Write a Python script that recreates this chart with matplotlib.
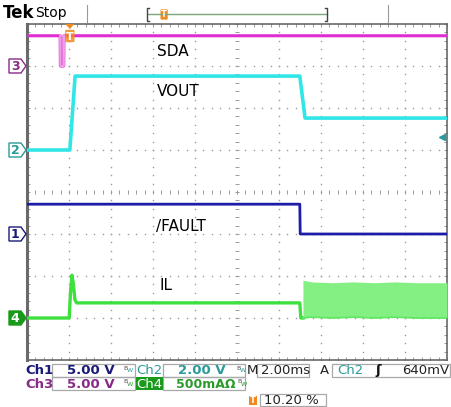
"""
Oscilloscope capture: SDA / VOUT / /FAULT / IL start-up and fault event.
"""
import numpy as np
import matplotlib
matplotlib.use("Agg")
import matplotlib.pyplot as plt
from matplotlib.patches import Polygon, Rectangle, FancyBboxPatch

# --- scope settings ---
time_per_div = 2.0          # ms/div
trig_pos = 0.102            # trigger position in record (10.20 %)
trig_level = 0.64           # V on Ch2

# channel: (ground position in div from bottom, scale per div)
ch_pos = {"ch1": 3.0, "ch2": 5.0, "ch3": 7.0, "ch4": 1.0}
ch_scale = {"ch1": 5.0, "ch2": 2.0, "ch3": 5.0, "ch4": 0.5}

# --- traces (time in ms relative to trigger) ---
sda_t = [-2.04, -0.46, -0.45, -0.29, -0.28, 17.96]
sda_v = [3.6, 3.6, 0.0, 0.0, 3.6, 3.6]

vout_t = [-2.04, 0.0, 0.25, 10.95, 11.2, 17.96]
vout_v = [0.0, 0.0, 3.52, 3.52, 1.52, 1.52]

fault_t = [-2.04, 10.95, 10.97, 17.96]
fault_v = [3.55, 3.55, 0.0, 0.0]

il_t = [-2.04, -0.03, 0.03, 0.1, 0.16, 0.24, 0.32, 10.95, 11.0, 11.1]
il_a = [0.0, 0.0, 0.3, 0.51, 0.42, 0.22, 0.18, 0.18, 0.0, 0.0]

# hiccup ripple envelope after the fault
ripple_t = [11.1, 11.5, 12.5, 13.5, 14.5, 15.5, 16.5, 17.96]
ripple_hi = [0.45, 0.43, 0.42, 0.43, 0.42, 0.43, 0.42, 0.42]
ripple_lo = [0.0, 0.01, 0.0, 0.01, 0.0, 0.01, 0.0, 0.0]

c_ch1 = "#1c1ca8"
c_ch2 = "#30e6e6"
c_ch3 = "#e02cd2"
c_ch4 = "#3ee03e"
t_ch1 = "#1a1a78"
t_ch2 = "#2a9a9a"
t_ch3 = "#882a88"
t_ch4 = "#2a9a2a"
orange = "#f08a1e"
grid_c = "#9a9a9a"


def tx(t):
    return 10 * trig_pos + np.asarray(t) / time_per_div


def ty(v, ch):
    return ch_pos[ch] + np.asarray(v) / ch_scale[ch]


fig = plt.figure(figsize=(4.51, 4.07), dpi=100)
fig.patch.set_facecolor("white")

W, H = 451, 407
ax = fig.add_axes([27 / W, (H - 360) / H, 420 / W, 336 / H])
ax.set_xlim(0, 10)
ax.set_ylim(0, 8)
ax.set_facecolor("none")
ax.set_xticks([])
ax.set_yticks([])
for s in ax.spines.values():
    s.set_edgecolor("#6a6a6a")
    s.set_linewidth(1.2)
ax.spines["left"].set_linewidth(2.2)

# graticule dots
dots = np.arange(0, 10.01, 0.2)
dots_y = np.arange(0, 8.01, 0.2)
gd = dict(ls="none", marker="s", ms=1.0, mew=0, color=grid_c, zorder=1)
for yy in range(1, 8):
    if yy != 4:
        ax.plot(dots, np.full_like(dots, yy), **gd)
for xx in range(1, 10):
    if xx != 5:
        ax.plot(np.full_like(dots_y, xx), dots_y, **gd)
# centre cross with ticks
ax.plot(dots, np.full_like(dots, 4), ls="none", marker="|", ms=2.5, mew=0.7, color=grid_c, zorder=1)
ax.plot(np.full_like(dots_y, 5), dots_y, ls="none", marker="_", ms=2.5, mew=0.7, color=grid_c, zorder=1)
# edge rulers
rc = dict(ls="none", ms=4, mew=0.6, color="#8a8a8a", zorder=1)
ax.plot(dots, np.full_like(dots, 8), marker="|", **rc)
ax.plot(dots, np.zeros_like(dots), marker="|", **rc)
ax.plot(np.zeros_like(dots_y), dots_y, marker="_", **rc)
ax.plot(np.full_like(dots_y, 10), dots_y, marker="_", **rc)

# traces
ax.plot(tx(sda_t), ty(sda_v, "ch3"), color=c_ch3, lw=2.2, zorder=3)
ax.plot(tx(sda_t[1:5]), ty(sda_v[1:5], "ch3"), color="#ee9ee6", lw=1.6, zorder=3)
ax.plot(tx(vout_t), ty(vout_v, "ch2"), color=c_ch2, lw=2.6, zorder=3)
ax.plot(tx(fault_t), ty(fault_v, "ch1"), color=c_ch1, lw=2.0, zorder=3)
ax.plot(tx(il_t), ty(il_a, "ch4"), color=c_ch4, lw=2.4, zorder=3)
ax.fill_between(tx(ripple_t), ty(ripple_lo, "ch4"), ty(ripple_hi, "ch4"),
                color="#84f084", lw=0, zorder=3)
ax.plot(tx(ripple_t), ty(ripple_lo, "ch4"), color="#5ee85e", lw=1.2, zorder=3)

# trigger level arrow on the right
ax.plot([9.88], ty([trig_level], "ch2"), marker="<", ms=5, color=t_ch2, clip_on=False, zorder=4)

# trace labels
lab = dict(fontsize=11, color="black", va="center", ha="left", zorder=5)
ax.text(3.1, (360 - 52) / 42, "SDA", **lab)
ax.text(3.1, (360 - 92) / 42, "VOUT", **lab)
ax.text(3.08, (360 - 227) / 42, "/FAULT", **lab)
ax.text(3.16, (360 - 285) / 42, "IL", **lab)

# overlay in pixel coordinates for the instrument UI
ov = fig.add_axes([0, 0, 1, 1], zorder=5)
ov.set_xlim(0, W)
ov.set_ylim(H, 0)
ov.axis("off")
ov.patch.set_alpha(0)

# channel ground markers
markers = [("3", ch_pos["ch3"], t_ch3, "white", t_ch3),
           ("2", ch_pos["ch2"], t_ch2, "white", t_ch2),
           ("1", ch_pos["ch1"], t_ch1, "white", t_ch1),
           ("4", ch_pos["ch4"], "#1a9a1a", "#1a9a1a", "white")]
for name, pos, edge, face, tc in markers:
    yc = 360 - pos * 42
    pts = [(9, yc - 7), (21, yc - 7), (26, yc), (21, yc + 7), (9, yc + 7)]
    ov.add_patch(Polygon(pts, closed=True, fc=face, ec=edge, lw=1.0))
    ov.text(15, yc + 0.5, name, ha="center", va="center", fontsize=9, color=tc, fontweight="bold")

# trigger position marker at top of graticule
tpx = 27 + 420 * trig_pos
ov.add_patch(Polygon([(tpx - 4.5, 24), (tpx + 4.5, 24), (tpx, 29)], closed=True, fc=orange, ec="none"))
ov.add_patch(FancyBboxPatch((tpx - 3.5, 31), 7, 10, boxstyle="round,pad=1.2",
                            fc=orange, ec="none", alpha=0.85))
ov.text(tpx, 36.5, "T", ha="center", va="center", fontsize=8, color="white", fontweight="bold")

# header
ov.text(3, 13, "Tek", fontsize=12, fontweight="bold", va="center", ha="left")
ov.text(35, 13, "Stop", fontsize=10, va="center", ha="left")
ov.plot([87, 87], [5, 22], color="#9a9a9a", lw=0.8)
ov.plot([388, 388], [5, 22], color="#9a9a9a", lw=0.8)
ov.plot([148, 327], [14, 14], color="#7aa87a", lw=1.0)
ov.plot([149, 147, 147, 149], [8, 8, 21, 21], color="#444444", lw=1.0)
ov.plot([325, 327, 327, 325], [8, 8, 21, 21], color="#444444", lw=1.0)
hx = 148 + (327 - 148) * 0.09
ov.add_patch(FancyBboxPatch((hx - 3, 10), 6, 9, boxstyle="round,pad=0.6", fc=orange, ec="none"))
ov.text(hx, 14.8, "T", ha="center", va="center", fontsize=6, color="white", fontweight="bold")

# bottom readout
box_ec = "#a8a8a8"


def box(x0, y0, x1, y1):
    ov.add_patch(Rectangle((x0, y0), x1 - x0, y1 - y0, fc="none", ec=box_ec, lw=0.9))


def bw(x, y, c):
    ov.text(x, y, "B", fontsize=4.5, color="#555555", va="bottom")
    ov.text(x + 3.5, y + 3, "W", fontsize=4.5, color=c, va="bottom")


fs = 9.5
box(52, 364, 135, 377)
box(52, 377, 135, 390)
box(163, 364, 245, 377)
box(163, 377, 245, 390)
box(257, 364, 309, 377)
box(332, 364, 450, 377)
box(260, 394, 326, 406)

r1, r2, r3 = 370.5, 384, 400
ov.text(25, r1, "Ch1", fontsize=fs, color=t_ch1, va="center", fontweight="bold")
ov.text(67, r1, "5.00 V", fontsize=fs, color=t_ch1, va="center", fontweight="bold")
ov.text(25, r2, "Ch3", fontsize=fs, color=t_ch3, va="center", fontweight="bold")
ov.text(67, r2, "5.00 V", fontsize=fs, color=t_ch3, va="center", fontweight="bold")
bw(123, r1, t_ch2)
bw(123, r2, t_ch4)
ov.text(136, r1, "Ch2", fontsize=fs, color=t_ch2, va="center")
ov.add_patch(Rectangle((136, 377), 27, 13, fc="#1a9a1a", ec="none"))
ov.text(136.5, r2, "Ch4", fontsize=fs, color="white", va="center")
ov.text(178, r1, "2.00 V", fontsize=fs, color=t_ch2, va="center", fontweight="bold")
ov.text(176, r2, "500mAΩ", fontsize=9, color=t_ch4, va="center", fontweight="bold")
bw(236, r1, t_ch2)
bw(237, r2, t_ch4)
ov.text(247, r1, "M", fontsize=fs, color="#222222", va="center")
ov.text(261, r1, f"{time_per_div:.2f}ms", fontsize=fs, color="#222222", va="center")
ov.text(320, r1, "A", fontsize=fs, color="#222222", va="center")
ov.text(337, r1, "Ch2", fontsize=fs, color=t_ch2, va="center")
ov.text(375, r1, "ʃ", fontsize=fs, color="#111111", va="center", fontweight="bold")
ov.text(402, r1, f"{trig_level * 1000:.0f}mV", fontsize=fs, color="#222222", va="center")
ov.add_patch(Rectangle((249, 396), 8, 9, fc=orange, ec="none"))
ov.text(253, 400.5, "T", fontsize=6, color="white", ha="center", va="center", fontweight="bold")
ov.text(264, r3, f"{trig_pos * 100:.2f} %", fontsize=fs, color="#222222", va="center")

fig.savefig("out.png", dpi=100, facecolor="white")
